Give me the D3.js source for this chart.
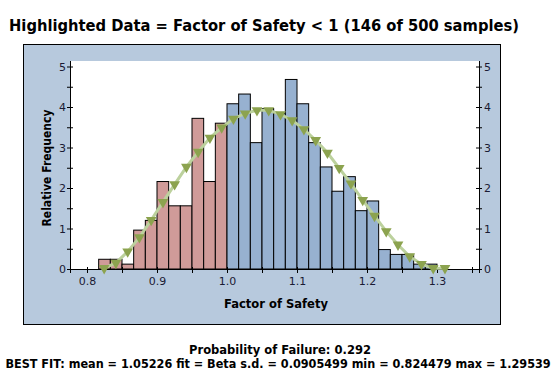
<!DOCTYPE html>
<html>
<head>
<meta charset="utf-8">
<script src="https://cdn.jsdelivr.net/npm/d3@7"></script>
<style>
  body { margin: 0; background: #fff; }
  text { font-family: 'DejaVu Sans', Verdana, sans-serif; }
</style>
</head>
<body>
<svg id="container" width="556" height="374"></svg>
<script>
// histogram: relative frequency per bin (bins of width 1/60 starting at 0.81667)
const binStart = 0.816667
const binWidth = 1 / 60
const freqs = [0.24, 0.24, 0.12, 0.96, 1.2, 2.16, 1.56, 1.56, 3.72, 2.16, 3.6,
  4.08, 4.32, 3.12, 3.96, 3.84, 4.68, 4.08, 3.12, 2.52, 1.92, 2.28, 1.44, 1.68,
  0.48, 0.36, 0.36, 0.12, 0.12]
const limit = 1.0

// best fit (Beta) curve points
const fitX = [0.8245, 0.8413, 0.8581, 0.8749, 0.8917, 0.9085, 0.9252, 0.942,
  0.9588, 0.9756, 0.9924, 1.0092, 1.026, 1.0428, 1.0596, 1.0764, 1.0931, 1.1099,
  1.1267, 1.1435, 1.1603, 1.1771, 1.1939, 1.2107, 1.2275, 1.2443, 1.261, 1.2778,
  1.2946, 1.3114]
const fitY = [0.02, 0.15, 0.43, 0.78, 1.21, 1.65, 2.09, 2.52, 2.89, 3.24, 3.49,
  3.71, 3.84, 3.92, 3.92, 3.82, 3.67, 3.45, 3.18, 2.87, 2.49, 2.11, 1.7, 1.31,
  0.93, 0.6, 0.31, 0.12, 0.02, 0.02]

const xTicks = [0.8, 0.85, 0.9, 0.95, 1.0, 1.05, 1.1, 1.15, 1.2, 1.25, 1.3, 1.35]
const xLabels = [0.8, 0.9, 1.0, 1.1, 1.2, 1.3]
const yTicks = [0, 0.5, 1, 1.5, 2, 2.5, 3, 3.5, 4, 4.5, 5]
const yLabels = [0, 1, 2, 3, 4, 5]

const title = 'Highlighted Data = Factor of Safety < 1 (146 of 500 samples)'
const xTitle = 'Factor of Safety'
const yTitle = 'Relative Frequency'
const footer1 = 'Probability of Failure: 0.292'
const footer2 = 'BEST FIT: mean = 1.05226 fit = Beta s.d. = 0.0905499 min = 0.824479 max = 1.29539'

const svg = d3.select('#container')

const xScale = d3.scaleLinear().domain([0.775714, 1.36]).range([70, 479])
const yScale = d3.scaleLinear().domain([0, 5]).range([269, 66.5])

// panel
svg.append('rect')
  .attr('x', 23.5).attr('y', 44.5).attr('width', 477).attr('height', 280)
  .style('fill', '#b7c9dd').style('stroke', '#000').style('stroke-width', 1)

svg.append('rect')
  .attr('x', 70).attr('y', 61).attr('width', 409).attr('height', 208)
  .style('fill', '#fff')

// bars
const bins = freqs.map((f, i) => ({ x0: binStart + i * binWidth, x1: binStart + (i + 1) * binWidth, f }))
svg.append('g').selectAll('rect')
  .data(bins)
  .enter()
  .append('rect')
  .attr('x', (d) => xScale(d.x0))
  .attr('y', (d) => yScale(d.f))
  .attr('width', (d) => xScale(d.x1) - xScale(d.x0))
  .attr('height', (d) => yScale(0) - yScale(d.f))
  .style('fill', (d) => d.x1 <= limit + 1e-6 ? '#d09b99' : '#97b1d0')
  .style('stroke', '#000')
  .style('stroke-width', 1)

// axes
const tickStyle = (g) => {
  g.select('.domain').style('stroke', '#000')
  g.selectAll('.tick line').style('stroke', '#000')
  g.selectAll('.tick text').style('font-size', '11px').style('fill', '#1a1a33')
}

const xAxis = d3.axisBottom(xScale).tickValues(xTicks).tickSizeOuter(0).tickSize(4)
  .tickFormat((d) => xLabels.some((v) => Math.abs(v - d) < 1e-6) ? d3.format('.1f')(d) : '')
svg.append('g').attr('transform', 'translate(0,269)').call(xAxis).call(tickStyle)
  .call((g) => g.selectAll('.tick line').attr('y1', -2))
  .call((g) => g.selectAll('.tick text').attr('dy', '0.95em').attr('y', 6))

const yFmt = (d) => yLabels.includes(d) ? d : ''
svg.append('g').attr('transform', 'translate(70,0)')
  .call(d3.axisLeft(yScale).tickValues(yTicks).tickSizeOuter(0).tickSize(3).tickFormat(yFmt))
  .call(tickStyle)
  .call((g) => g.selectAll('.tick line').attr('x2', 3).attr('x1', -3))
  .call((g) => g.select('.domain').attr('d', 'M0.5,61V269'))
  .call((g) => g.selectAll('.tick text').attr('x', -4))

svg.append('g').attr('transform', 'translate(479,0)')
  .call(d3.axisRight(yScale).tickValues(yTicks).tickSizeOuter(0).tickSize(3).tickFormat(yFmt))
  .call(tickStyle)
  .call((g) => g.selectAll('.tick line').attr('x1', -3).attr('x2', 3))
  .call((g) => g.select('.domain').attr('d', 'M0.5,61V269'))
  .call((g) => g.selectAll('.tick text').attr('x', 5))

// fit curve
const pts = fitX.map((x, i) => [x, fitY[i]])
svg.append('path')
  .datum(pts)
  .attr('d', d3.line().x((d) => xScale(d[0])).y((d) => yScale(d[1])))
  .style('fill', 'none')
  .style('stroke', '#bcd19d')
  .style('stroke-width', 3)

svg.append('g').selectAll('path')
  .data(pts)
  .enter()
  .append('path')
  .attr('d', d3.symbol().type(d3.symbolTriangle).size(50))
  .attr('transform', (d) => `translate(${xScale(d[0])},${yScale(d[1])}) rotate(180)`)
  .style('fill', '#8ca34f')

// texts
svg.append('text').text(title)
  .attr('x', 264).attr('y', 31).attr('text-anchor', 'middle')
  .style('font-size', '15px').style('font-weight', 'bold')
  .attr('textLength', 510).attr('lengthAdjust', 'spacingAndGlyphs')

svg.append('text').text(xTitle)
  .attr('x', 276).attr('y', 308).attr('text-anchor', 'middle')
  .style('font-size', '12px').style('font-weight', 'bold')
  .attr('textLength', 104).attr('lengthAdjust', 'spacingAndGlyphs')

svg.append('text').text(yTitle)
  .attr('transform', 'translate(51,168) rotate(-90)')
  .attr('text-anchor', 'middle')
  .style('font-size', '11.5px').style('font-weight', 'bold')
  .attr('textLength', 117).attr('lengthAdjust', 'spacingAndGlyphs')

svg.append('text').text(footer1)
  .attr('x', 280).attr('y', 354).attr('text-anchor', 'middle')
  .style('font-size', '12px').style('font-weight', 'bold')
  .attr('textLength', 182).attr('lengthAdjust', 'spacingAndGlyphs')

// long footer: squeeze horizontally so it fits the page width
const f2 = svg.append('text').text(footer2)
  .attr('x', 0).attr('y', 0).attr('text-anchor', 'middle')
  .style('font-size', '12px').style('font-weight', 'bold')
const w2 = f2.node().getComputedTextLength()
f2.attr('transform', `translate(278,368) scale(${546 / w2},1)`)
</script>
</body>
</html>
